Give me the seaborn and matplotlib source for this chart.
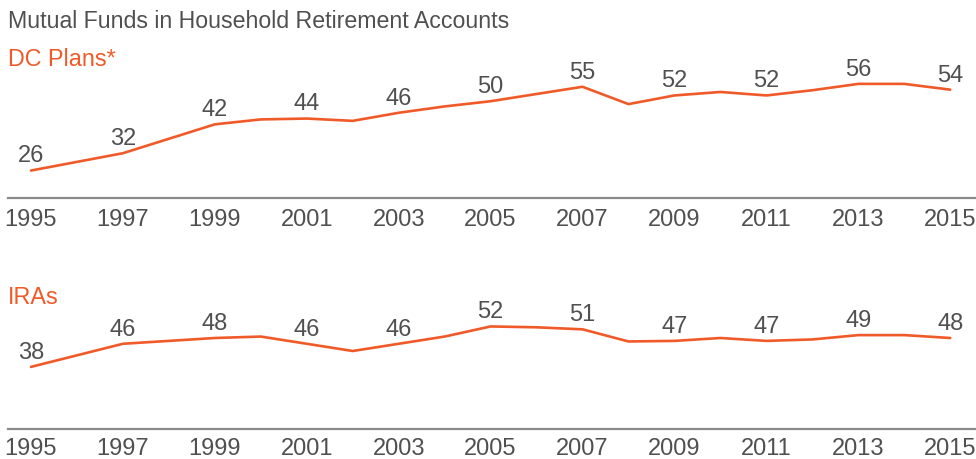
import matplotlib
matplotlib.use("Agg")
import matplotlib.pyplot as plt
import seaborn as sns
import pandas as pd

# Share of household retirement-account assets held in mutual funds (%)
years = list(range(1995, 2016))
dc_plans = [26, 29, 32, 37, 42, 43.7, 44, 43.2, 46, 48.2, 50, 52.5, 55, 49, 52, 53.2, 52, 53.8, 56, 56, 54]
iras = [38, 42, 46, 47, 48, 48.5, 46, 43.5, 46, 48.5, 52, 51.7, 51, 46.8, 47, 48, 47, 47.5, 49, 49, 48]
label_years = list(range(1995, 2016, 2))
tick_labels = [str(y) for y in label_years]

title = "Mutual Funds in Household Retirement Accounts"
panel_titles = ["DC Plans*", "IRAs"]

ORANGE = "#F05A28"
TEXT = "#505050"
SPINE = "#8a8a8a"

sns.set_theme(style="white")
plt.rcParams["font.family"] = ["Liberation Sans", "DejaVu Sans"]

fig = plt.figure(figsize=(9.76, 4.6), dpi=100)
ax_top = fig.add_axes([8 / 976, 261 / 460, 968 / 976, 143 / 460])
ax_bot = fig.add_axes([8 / 976, 30 / 460, 968 / 976, 143 / 460])

frames = [
    pd.DataFrame({"year": years, "value": dc_plans}),
    pd.DataFrame({"year": years, "value": iras}),
]

for ax, df, pad in zip([ax_top, ax_bot], frames, [7, 5.5]):
    sns.lineplot(data=df, x="year", y="value", ax=ax, color=ORANGE, linewidth=1.9)
    ax.set_xlim(1994.5, 2015.56)
    ax.set_ylim(16.5, 66)
    ax.set_xlabel("")
    ax.set_ylabel("")
    ax.set_yticks([])
    ax.set_xticks(label_years)
    ax.set_xticklabels(tick_labels)
    ax.tick_params(axis="x", length=0, pad=pad, labelsize=17, labelcolor=TEXT)
    for side in ["top", "left", "right"]:
        ax.spines[side].set_visible(False)
    ax.spines["bottom"].set_color(SPINE)
    ax.spines["bottom"].set_linewidth(1.6)
    sub = df[df["year"].isin(label_years)]
    for yr, val in zip(sub["year"], sub["value"]):
        ax.annotate(f"{val:g}", xy=(yr, val), xytext=(0, 3), textcoords="offset points",
                    ha="center", va="bottom", fontsize=17, color=TEXT)

fig.text(8 / 976, 1 - 22 / 460, title, ha="left", va="center", fontsize=16.7, color=TEXT)
fig.text(8 / 976, 1 - 60 / 460, panel_titles[0], ha="left", va="center", fontsize=16.8, color=ORANGE)
fig.text(8 / 976, 1 - 298 / 460, panel_titles[1], ha="left", va="center", fontsize=16.8, color=ORANGE)

fig.savefig("out.png", dpi=100)
